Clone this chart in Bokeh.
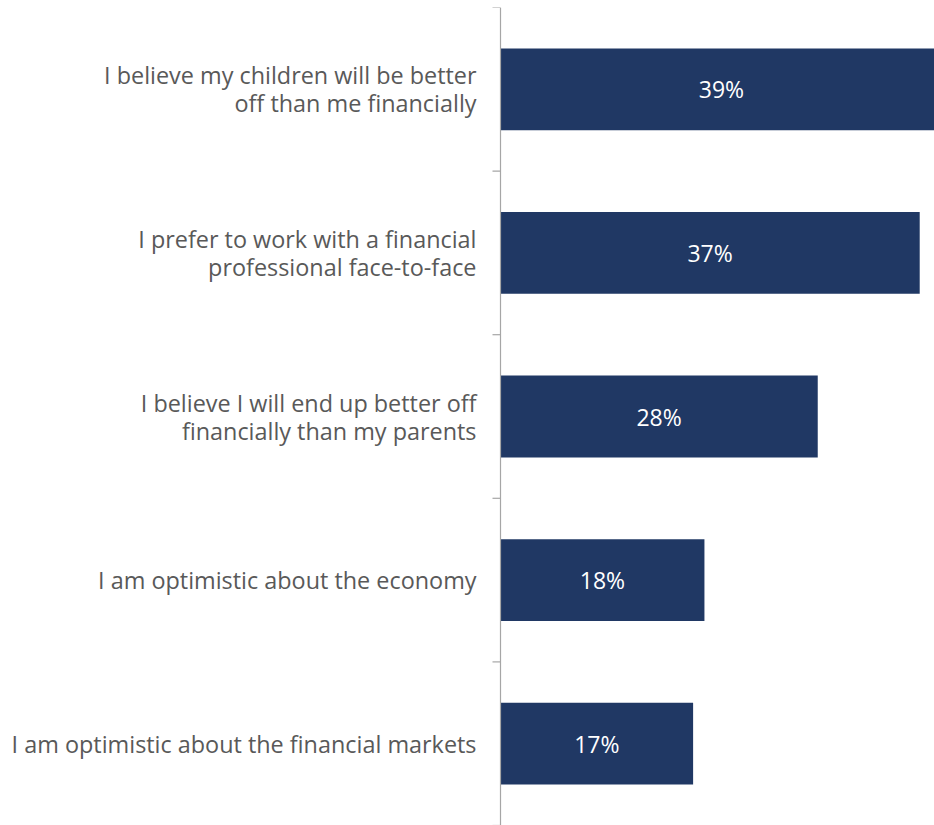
from bokeh.plotting import figure
from bokeh.models import Range1d, ColumnDataSource
from bokeh.embed import file_html
from bokeh.resources import INLINE
from bokeh.core.properties import value

# Data (top to bottom)
line1 = [
    "I believe my children will be better",
    "I prefer to work with a financial",
    "I believe I will end up better off",
    "I am optimistic about the economy",
    "I am optimistic about the financial markets",
]
line2 = [
    "off than me financially",
    "professional face-to-face",
    "financially than my parents",
    "",
    "",
]
values = [39, 37, 28, 18, 17]
value_labels = ["39%", "37%", "28%", "18%", "17%"]

FONT = "Open Sans"
FS = "23px"
FS_CAT = "23.4px"
TXT = "#595959"
BAR = "#203864"
AXC = "#a6a6a6"

W, H, TOP = 934, 825, 7
AXIS_PX = 500          # pixel position of the category axis
PPU = 11.33            # pixels per percentage point
n = len(values)
centers = [i + 0.5 for i in range(n)]
unit_px = (H - TOP) / n

x0 = -AXIS_PX / PPU
x1 = (W - AXIS_PX) / PPU

p = figure(width=W, height=H, x_range=Range1d(x0, x1), y_range=Range1d(n, 0),
           output_backend="svg", toolbar_location=None,
           x_axis_location=None, y_axis_location=None,
           min_border_left=0, min_border_right=0, min_border_top=TOP, min_border_bottom=0)
p.outline_line_color = None
p.xgrid.grid_line_color = None
p.ygrid.grid_line_color = None

src = ColumnDataSource(dict(y=centers, v=values, mid=[v / 2 for v in values], lab=value_labels))
p.hbar(y="y", left=0, right="v", height=0.5, source=src, fill_color=BAR, line_color=None)
p.text(x="mid", y="y", text="lab", source=src, text_color="white", text_align="center",
       text_baseline="middle", text_font=value(FONT), text_font_size=FS)

# category axis line and boundary ticks
bounds = list(range(n + 1))
p.segment(x0=[0], y0=[0], x1=[0], y1=[n], line_color=AXC, line_width=1.2)
p.segment(x0=[-8 / PPU] * len(bounds), y0=bounds, x1=[0] * len(bounds), y1=bounds,
          line_color=AXC, line_width=1.2)

# category labels
half = 14 / unit_px
lx, ly, lt = [], [], []
for c, a, b in zip(centers, line1, line2):
    if b:
        parts = [(c - half, a), (c + half, b)]
    else:
        parts = [(c, a)]
    for yy, t in parts:
        lx.append(-24 / PPU)
        ly.append(yy)
        lt.append(t)
p.text(x=lx, y=ly, text=lt, text_align="right", text_baseline="middle",
       text_color=TXT, text_font=value(FONT), text_font_size=FS_CAT)

open("out.html", "w").write(file_html(p, INLINE))
